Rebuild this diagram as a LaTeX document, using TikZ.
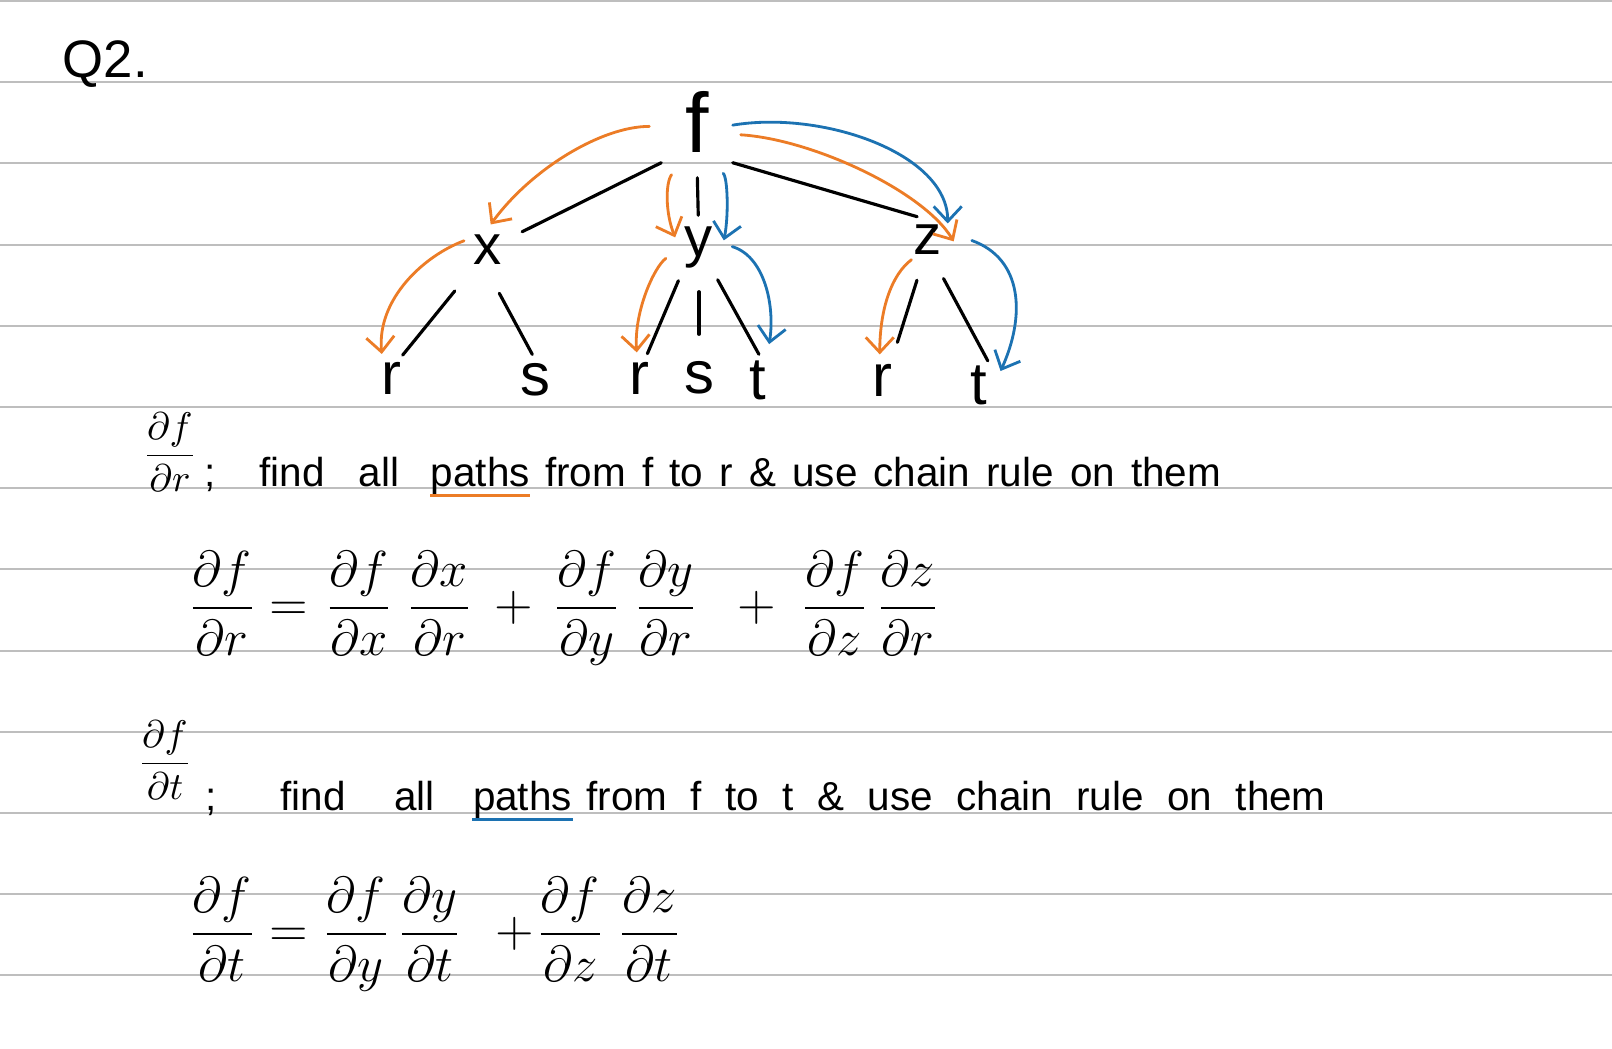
\documentclass[tikz,border=0pt]{standalone}
\usepackage{amsmath}
\usepackage{fontspec}
\setmainfont{Liberation Sans}
\usepackage{tikz}
\usetikzlibrary{positioning, arrows.meta}
\definecolor{penorange}{RGB}{236,124,38}
\definecolor{penblue}{RGB}{28,114,178}
\definecolor{ruleline}{RGB}{190,190,190}

\begin{document}
\begin{tikzpicture}[
      x=0.01cm, y=-0.01cm,
      rule/.style={draw=ruleline, line width=0.6pt},
      top/.style={
        rectangle, inner sep=0pt,
        minimum width=0.7cm, minimum height=0.8cm,
        font=\fontsize{24}{28}\selectfont
      },
      var/.style={
        circle, inner sep=0pt, minimum size=0.5cm,
        font=\fontsize{16}{19}\selectfont
      },
      leaf/.style={
        circle, inner sep=0pt, minimum size=0.5cm,
        font=\fontsize{17}{20}\selectfont
      },
      edge/.style={line width=0.9pt, line cap=round},
      orangepath/.style={
        draw=penorange, line width=0.8pt, line cap=round,
        -{Straight Barb[length=1.5mm, width=2.8mm]}
      },
      bluepath/.style={
        draw=penblue, line width=0.8pt, line cap=round,
        -{Straight Barb[length=1.5mm, width=2.8mm]}
      },
      words/.style={
        inner sep=0pt, anchor=base west,
        font={\fontsize{11.5}{14}\selectfont\spaceskip=#1\relax}
      },
      words/.default=0.5em,
      frac/.style={inner sep=0pt, font=\fontsize{10.5}{13}\selectfont},
      eqn/.style={inner sep=0pt, anchor=west, font=\fontsize{14}{17}\selectfont}
    ]

    \fill[white] (0,0) rectangle (1612,1048);
    \useasboundingbox (0,0) rectangle (1612,1048);
    \foreach \k in {0,...,12}
      \draw[rule] (0,{1+81.2*\k}) -- (1612,{1+81.2*\k});

    \node[words, font=\fontsize{15}{18}\selectfont] (qlabel) at (62,77) {Q2.};

    \node[top] (f) at (697,122) {f};
    \node[var] (x) at (488,250) {x};
    \node[var] (y) at (699,247) {y};
    \node[var] (z) at (928,240) {z};
    \node[leaf] (xr) at (391,378) {r};
    \node[leaf] (xs) at (535,380) {s};
    \node[leaf] (yr) at (639,378) {r};
    \node[leaf] (ys) at (699,378) {s};
    \node[leaf] (yt) at (758,380) {t};
    \node[leaf] (zr) at (882,380) {r};
    \node[leaf] (zt) at (979,385) {t};

    \draw[edge, shorten >=0.13cm] (f.south west) -- (x.29);
    \draw[edge, shorten <=0.15cm, shorten >=0.06cm] (f.south) -- (y);
    \draw[edge] (f.south east) -- (z.115);
    \draw[edge, shorten <=0.27cm] (x.231) -- (xr.63);
    \draw[edge, shorten <=0.2cm] (x.274) -- (xs.96);
    \draw[edge, shorten <=0.14cm] (y.234) -- (yr.71);
    \draw[edge, shorten <=0.19cm, shorten >=0.18cm] (y) -- (ys);
    \draw[edge, shorten <=0.12cm] (y.300) -- (yt.88);
    \draw[edge, shorten <=0.16cm, shorten >=0.15cm] (z.256) -- (zr.65);
    \draw[edge, shorten <=0.16cm] (z.288) -- (zt.70);

    \draw[orangepath, shorten <=0.12cm] (f.187) .. controls +(-60,0) and +(40,-55) .. (x.84);
    \draw[orangepath] (x.159) .. controls +(-40,15) and +(-5,-55) .. (xr.111);
    \draw[orangepath, shorten <=0.15cm] (f.248) .. controls +(-15,20) and +(-10,-25) .. (y.158);
    \draw[orangepath, shorten <=0.1cm] (y.192) .. controls +(-20,15) and +(-3,-40) .. (yr.95);
    \draw[orangepath, shorten <=0.08cm] (f.341) .. controls +(80,5) and +(-30,-50) .. (z.357);
    \draw[orangepath] (z.230) .. controls +(-20,15) and +(0,-45) .. (zr.95);

    \draw[bluepath] (f.355) .. controls +(90,-15) and +(0,-70) .. (z.40);
    \draw[bluepath, shorten <=0.15cm] (f.291) .. controls +(15,15) and +(5,-25) .. (y.15);
    \draw[bluepath, shorten <=0.08cm, shorten >=0.12cm] (y.6) .. controls +(40,12) and +(8,-50) .. (yt.69);
    \draw[bluepath, shorten <=0.2cm] (z.14) .. controls +(70,25) and +(25,-55) .. (zt.33);

    \node[frac] (dr) at (170,452) {$\dfrac{\partial f}{\partial r}$};
    \node[words] (sc1) at (204,486) {;};
    \node[words=0.85em, base right=0.42cm of sc1] (find1) {find all};
    \node[words, base right=0.3cm of find1] (paths1) {paths};
    \node[words=0.4em, base right=0.14cm of paths1] (rest1) {from f to r \& use chain rule on them};
    \draw[penorange, line width=0.8pt] (paths1.south west) -- (paths1.south east);

    \node[eqn] (eqr) at (188,608) {$\dfrac{\partial f}{\partial r} = \mskip1mu \dfrac{\partial f}{\partial x}\;\dfrac{\partial x}{\partial r} \mskip4mu + \mskip3mu \dfrac{\partial f}{\partial y}\;\dfrac{\partial y}{\partial r} \mskip10mu + \mskip5mu \dfrac{\partial f}{\partial z}\,\dfrac{\partial z}{\partial r}$};

    \node[frac] (dt) at (165,760) {$\dfrac{\partial f}{\partial t}$};
    \node[words] (sc2) at (205,810) {;};
    \node[words=1.2em, base right=0.62cm of sc2] (find2) {find all};
    \node[words, base right=0.37cm of find2] (paths2) {paths};
    \node[words=0.58em, base right=0.13cm of paths2] (rest2) {from f to t \& use chain rule on them};
    \draw[penblue, line width=0.8pt] (paths2.south west) -- (paths2.south east);

    \node[eqn] (eqt) at (188,934) {$\dfrac{\partial f}{\partial t} = \dfrac{\partial f}{\partial y}\,\dfrac{\partial y}{\partial t} \mskip8mu + \mskip-3mu \dfrac{\partial f}{\partial z}\mskip5mu\dfrac{\partial z}{\partial t}$};

    \end{tikzpicture}
\end{document}
